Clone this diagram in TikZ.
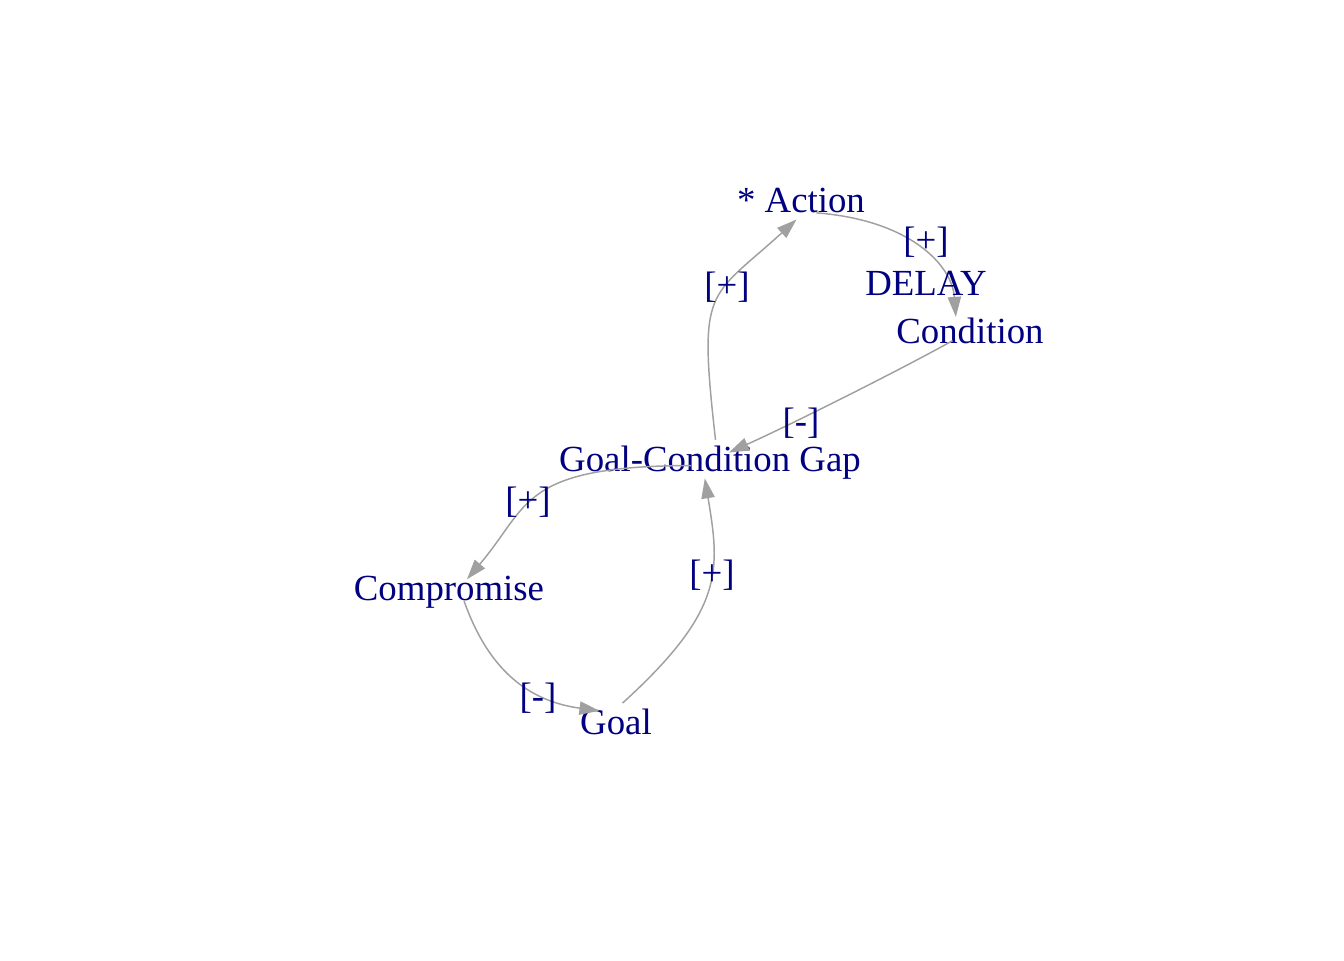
\documentclass[tikz,border=0pt]{standalone}
\usepackage{fontspec}
\setmainfont{Liberation Serif}
\usetikzlibrary{arrows.meta}
\definecolor{varnavy}{HTML}{000080}
\definecolor{linkgray}{HTML}{A0A0A0}
\tikzset{
	causal loop/.style={
		x=0.375pt,
		y=0.375pt,
		font=\fontsize{13.8}{16.1}\selectfont,
		every label/.style={
			text=varnavy,
			inner sep=0pt,
			text depth=0pt % centre on the letters, not the descenders
		}
	},
	variable/.style={% invisible vertex, name printed on top
		circle,
		inner sep=0pt,
		outer sep=0pt,
		minimum size=15pt,
		label=center:{#1}
	},
	link/.style={
		draw=linkgray,
		line width=0.55pt,
		-{Triangle[length=7.5pt,width=5pt]}
	},
	polarity/.style={
		text=varnavy,
		inner sep=0pt,
		align=center
	}
}

\begin{document}
\begin{tikzpicture}[causal loop]
	\useasboundingbox (0,0) rectangle (1344,-960);

	% variables
	\node[variable={* Action}] (action) at (801,-200) {};
	\node[variable={Condition}] (condition) at (970,-331) {};
	\node[variable={Goal-Condition Gap}] (gap) at (710,-459) {};
	\node[variable={Compromise}] (compromise) at (449,-588) {};
	\node[variable={Goal}] (goal) at (616,-722) {};

	% links
	\draw[link] (action.-40) .. controls (910,-220) and (952,-265) .. (condition.135);
	\draw[link] (condition.209) .. controls (900,-370) and (790,-425) .. (gap.19);
	\draw[link] (gap.74) .. controls (698,-285) and (708,-300) .. (action.257);
	\draw[link] (gap.199) .. controls (520,-466) and (530,-505) .. (compromise.26);
	\draw[link] (compromise.-41) .. controls (485,-660) and (520,-700) .. (goal.146);
	\draw[link] (goal.71) .. controls (725,-610) and (720,-570) .. (gap.255);

	% polarities
	\node[polarity] (pol delay) at (926,-261) {[+]\\DELAY};
	\node[polarity] (pol cond) at (801,-423) {[-]};
	\node[polarity] (pol act) at (727,-287) {[+]};
	\node[polarity] (pol comp) at (528,-502) {[+]};
	\node[polarity] (pol goal) at (538,-698) {[-]};
	\node[polarity] (pol gap) at (712,-575) {[+]};
\end{tikzpicture}
\end{document}
